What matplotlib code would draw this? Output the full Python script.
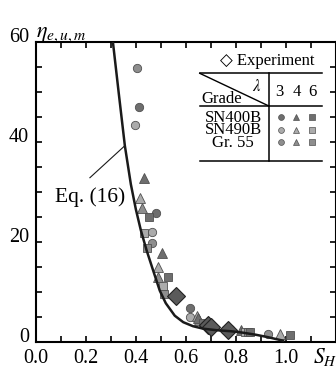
import matplotlib
matplotlib.use("Agg")
import matplotlib.pyplot as plt
from matplotlib.ticker import MultipleLocator

plt.rcParams["font.family"] = ["Liberation Serif", "DejaVu Sans"]
plt.rcParams["mathtext.fontset"] = "stix"

# Eq. (16) curve
curve_x = [0.308, 0.332, 0.356, 0.38, 0.40, 0.42, 0.443, 0.469, 0.496, 0.52,
           0.556, 0.59, 0.629, 0.67, 0.723, 0.78, 0.83, 0.88, 0.93, 0.99]
curve_y = [60.0, 49.5, 39.2, 31.5, 26.5, 22.3, 18.3, 14.3, 10.2, 7.7,
           5.2, 3.9, 3.1, 2.6, 2.3, 2.1, 1.8, 1.4, 0.9, 0.2]

# numerical results: lambda = 3 (circle), 4 (triangle), 6 (square)
sn400_c_x = [0.413, 0.480, 0.616, 0.776]
sn400_c_y = [47.0, 25.8, 6.7, 2.5]
sn490_c_x = [0.396, 0.463, 0.616, 0.756]
sn490_c_y = [43.3, 22.0, 5.0, 2.3]
gr55_c_x = [0.405, 0.465, 0.929]
gr55_c_y = [54.7, 19.7, 1.5]

sn400_t_x = [0.433, 0.503, 0.649, 0.823]
sn400_t_y = [32.7, 17.7, 4.7, 2.3]
sn490_t_x = [0.416, 0.487, 0.645, 0.976]
sn490_t_y = [28.7, 15.0, 5.2, 1.5]
gr55_t_x = [0.425, 0.489, 0.655]
gr55_t_y = [26.8, 13.0, 4.3]

sn400_s_x = [0.452, 0.527, 0.669, 0.856, 1.019]
sn400_s_y = [25.0, 12.9, 3.7, 2.0, 1.3]
sn490_s_x = [0.433, 0.509, 0.836]
sn490_s_y = [21.8, 11.1, 2.0]
gr55_s_x = [0.443, 0.512, 0.849]
gr55_s_y = [18.8, 9.5, 2.0]

# experiment
exp_x = [0.560, 0.689, 0.703, 0.769]
exp_y = [9.1, 3.3, 3.0, 2.3]

grades = ["SN400B", "SN490B", "Gr. 55"]
lambdas = ["3", "4", "6"]

c400 = "#6e6e6e"
c490 = "#ababab"
c55 = "#8e8e8e"
edge = "#505050"

fig = plt.figure(figsize=(3.36, 3.67), dpi=100)
ax = fig.add_axes([36 / 336, 25.3 / 367, 299.5 / 336, 300 / 367])

def pts(x, y, m, c, ms):
    ax.plot(x, y, ls="none", marker=m, ms=ms, mfc=c, mec=edge, mew=0.6, zorder=3)

pts(sn490_c_x, sn490_c_y, "o", c490, 6)
pts(gr55_c_x, gr55_c_y, "o", c55, 6)
pts(sn400_c_x, sn400_c_y, "o", c400, 6)
pts(sn490_t_x, sn490_t_y, "^", c490, 6.5)
pts(gr55_t_x, gr55_t_y, "^", c55, 6.5)
pts(sn400_t_x, sn400_t_y, "^", c400, 6.5)
pts(sn490_s_x, sn490_s_y, "s", c490, 5.2)
pts(gr55_s_x, gr55_s_y, "s", c55, 5.2)
pts(sn400_s_x, sn400_s_y, "s", c400, 5.2)
ax.plot(exp_x, exp_y, ls="none", marker="D", ms=9.5, mfc="#5a5a5a", mec="#222222",
        mew=0.8, zorder=4)

ax.plot(curve_x, curve_y, color="#1a1a1a", lw=1.8, zorder=5)

ax.set_xlim(0, 1.2)
ax.set_ylim(0, 60)
ax.xaxis.set_minor_locator(MultipleLocator(0.1))
ax.yaxis.set_major_locator(MultipleLocator(20))
ax.yaxis.set_minor_locator(MultipleLocator(5))
ax.tick_params(which="both", direction="in", top=True, right=True,
               length=4, width=1.2, labelsize=14.5)
ax.tick_params(axis="x", pad=5)
ax.tick_params(axis="y", pad=5)
ax.set_xticks([0.0, 0.2, 0.4, 0.6, 0.8, 1.0])
ax.set_xticklabels(["0.0", "0.2", "0.4", "0.6", "0.8", "1.0"])
for lab in ax.get_yticklabels():
    lab.set_verticalalignment("baseline")
for s in ax.spines.values():
    s.set_linewidth(1.5)

# axis titles
fig.text(36 / 336, (367 - 37) / 367, r"$\eta_{e,u,m}$", fontsize=16,
         ha="left", va="baseline")
fig.text(313 / 336, (367 - 363) / 367, r"$S_H$", fontsize=15.5,
         ha="left", va="baseline")

# Eq. (16) label
ax.text(0.216, 27.9, "Eq. (16)", fontsize=15.5, ha="center", va="baseline")
ax.plot([0.356, 0.216], [39.2, 32.8], color="#1a1a1a", lw=0.8)

# key table
ax.text(0.926, 55.3, "\u25c7 Experiment", fontsize=12, ha="center", va="baseline")
ax.plot([0.656, 1.147], [53.68, 53.68], color="k", lw=1.1)
ax.plot([0.656, 1.147], [47.14, 47.14], color="k", lw=1.1)
ax.plot([0.656, 1.147], [36.2, 36.2], color="k", lw=1.1)
ax.plot([0.933, 0.933], [53.68, 36.2], color="k", lw=1.1)
ax.plot([0.656, 0.933], [53.68, 47.14], color="k", lw=1.0)
ax.text(0.885, 51.0, r"$\lambda$", fontsize=12, ha="center", va="center")
ax.text(0.663, 47.8, "Grade", fontsize=12, ha="left", va="baseline")
for lx, lam in zip([0.976, 1.043, 1.109], lambdas):
    ax.text(lx, 49.2, lam, fontsize=12, ha="center", va="baseline")
row_y = [44.0, 41.48, 39.0]
row_c = [c400, c490, c55]
for g, yb, c in zip(grades, row_y, row_c):
    ax.text(0.79, yb, g, fontsize=12, ha="center", va="baseline")
    ym = yb + 0.85
    ax.plot([0.983], [ym], ls="none", marker="o", ms=4.2, mfc=c, mec=edge, mew=0.5)
    ax.plot([1.040], [ym], ls="none", marker="^", ms=4.8, mfc=c, mec=edge, mew=0.5)
    ax.plot([1.107], [ym], ls="none", marker="s", ms=4.0, mfc=c, mec=edge, mew=0.5)

fig.savefig("out.png", dpi=100)
